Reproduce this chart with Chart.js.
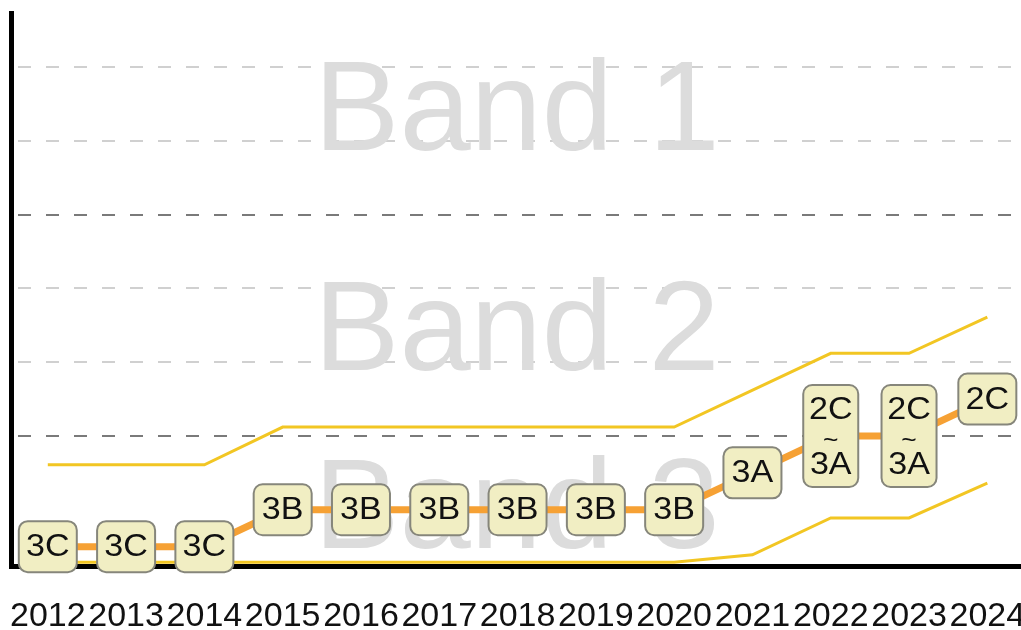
<!DOCTYPE html>
<html>
<head>
<meta charset="utf-8">
<script src="https://cdn.jsdelivr.net/npm/chart.js@4.4.1/dist/chart.umd.min.js"></script>
<style>
  html, body { margin: 0; padding: 0; background: #fff; }
  canvas { display: block; }
</style>
</head>
<body>
<canvas id="chart" width="1021" height="630"></canvas>
<script>
// years along the bottom
const years = [2012, 2013, 2014, 2015, 2016, 2017, 2018, 2019, 2020, 2021, 2022, 2023, 2024];
// grade written in each box (\n = stacked box)
const grades = ['3C', '3C', '3C', '3B', '3B', '3B', '3B', '3B', '3B', '3A', '2C\n~\n3A', '2C\n~\n3A', '2C'];
// level of each grade on the vertical scale
const gradeLevel = [-0.5, -0.5, -0.5, 0, 0, 0, 0, 0, 0, 0.5, 1, 1, 1.5];
// yellow upper / lower bounds (null = straight through)
const upperBound = [0.61, 0.61, 0.61, 1.12, 1.12, 1.12, 1.12, 1.12, 1.12, null, 2.12, 2.12, 2.61];
const lowerBound = [-0.71, -0.71, -0.71, -0.71, -0.71, -0.71, -0.71, -0.71, -0.71, -0.61, -0.11, -0.11, 0.36];
// dashed reference lines, the dark ones are band edges
const gridLevels = [1, 2, 3, 4, 5, 6];
const bandEdges = [1, 4];
// big background band names
const bandNames = ['Band 1', 'Band 2', 'Band 3'];

const FONT = "'Liberation Sans', Arial, Helvetica, sans-serif";

// where the band names sit (value space)
const bandX = 2015.4;
const bandY = [4.875, 1.89, -0.52];

const bandText = {
  id: 'bandText',
  beforeDatasetsDraw(chart) {
    const { ctx, scales: { x, y } } = chart;
    ctx.save();
    ctx.font = '128px ' + FONT;
    ctx.fillStyle = '#dcdcdc';
    ctx.textAlign = 'left';
    ctx.textBaseline = 'alphabetic';
    bandNames.forEach((name, i) => {
      ctx.fillText(name, x.getPixelForValue(bandX), y.getPixelForValue(bandY[i]));
    });
    ctx.restore();
  }
};

// rounded boxes with the grade on top of the orange line
const gradeBoxes = {
  id: 'gradeBoxes',
  afterDatasetsDraw(chart) {
    const ctx = chart.ctx;
    const meta = chart.getDatasetMeta(2);
    meta.data.forEach((pt, i) => {
      const lines = grades[i].split('\n');
      const stacked = lines.length > 1;
      const w = stacked ? 55 : 58;
      const h = stacked ? 102 : 51;
      ctx.save();
      ctx.beginPath();
      ctx.roundRect(pt.x - w / 2, pt.y - h / 2, w, h, 9);
      ctx.fillStyle = '#f1eec3';
      ctx.fill();
      ctx.lineWidth = 2;
      ctx.strokeStyle = '#86867b';
      ctx.stroke();
      ctx.fillStyle = '#111';
      ctx.textAlign = 'center';
      ctx.textBaseline = 'middle';
      const offs = stacked ? [-26, 5, 29] : [1];
      lines.forEach((txt, k) => {
        ctx.save();
        ctx.translate(pt.x, pt.y + offs[k]);
        ctx.scale(1.1, 1);
        ctx.font = (txt === '~' ? '24px ' : '31px ') + FONT;
        ctx.fillText(txt, 0, 0);
        ctx.restore();
      });
      ctx.restore();
    });
  }
};

const ctx = document.getElementById('chart').getContext('2d');

const chart = new Chart(ctx, {
  type: 'line',
  data: {
    datasets: [
      {
        label: 'upper',
        data: years.map((yr, i) => ({ x: yr, y: upperBound[i] })),
        borderColor: '#f2c623',
        borderWidth: 3,
        pointRadius: 0,
        spanGaps: true
      },
      {
        label: 'lower',
        data: years.map((yr, i) => ({ x: yr, y: lowerBound[i] })),
        borderColor: '#f2c623',
        borderWidth: 3,
        pointRadius: 0
      },
      {
        label: 'grade',
        data: years.map((yr, i) => ({ x: yr, y: gradeLevel[i] })),
        borderColor: '#f6a134',
        borderWidth: 7,
        pointRadius: 0
      }
    ]
  },
  options: {
    responsive: false,
    animation: false,
    devicePixelRatio: 1,
    layout: { padding: { left: 11, top: 13, right: 0, bottom: 0 } },
    plugins: { legend: { display: false }, tooltip: { enabled: false } },
    scales: {
      x: {
        type: 'linear',
        min: 2011.53,
        max: 2024.43,
        afterBuildTicks: s => { s.ticks = years.map(v => ({ value: v })); },
        afterFit: s => { s.paddingLeft = 0; s.paddingRight = 0; s.height = 64; },
        ticks: {
          autoSkip: false,
          maxRotation: 0,
          padding: 34,
          color: '#111',
          font: { size: 34, family: FONT, lineHeight: 1 },
          callback: v => String(v)
        },
        grid: { display: false, drawTicks: false },
        border: { display: true, color: '#000', width: 5 }
      },
      y: {
        type: 'linear',
        min: -0.762,
        max: 6.732,
        afterBuildTicks: s => { s.ticks = gridLevels.map(v => ({ value: v })); },
        ticks: { display: false },
        grid: {
          color: c => (c.tick && bandEdges.includes(c.tick.value)) ? '#7a7a7a' : '#d0d0d0',
          lineWidth: 2,
          drawTicks: false
        },
        border: { display: true, color: '#000', width: 5, dash: [13, 15], dashOffset: -4 }
      }
    }
  },
  plugins: [bandText, gradeBoxes]
});
</script>
</body>
</html>
